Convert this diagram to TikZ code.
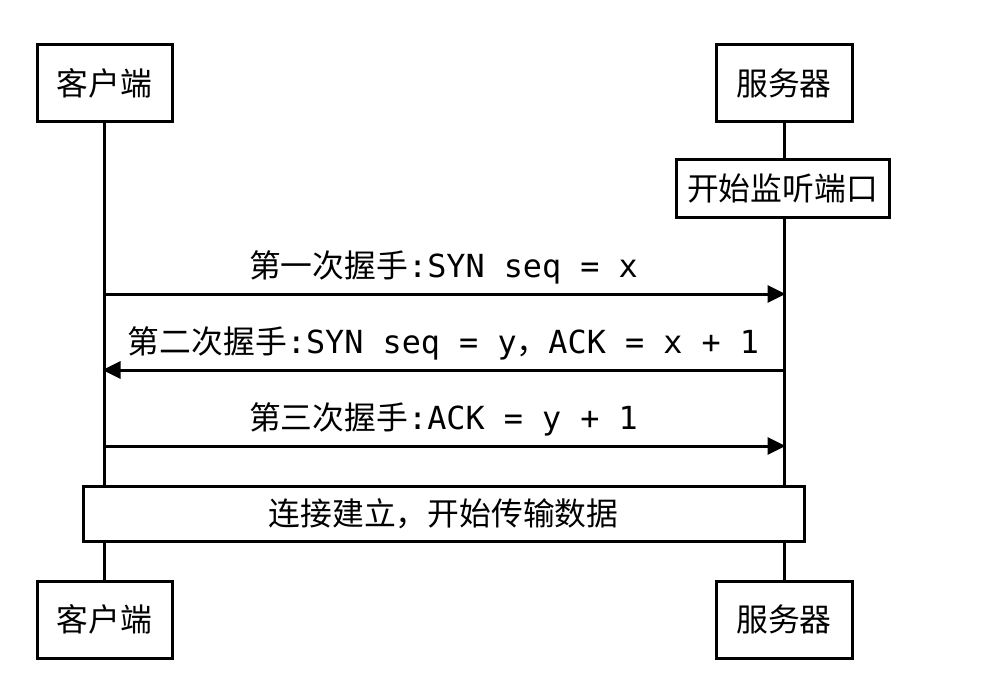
\documentclass[tikz,border=0pt]{standalone}
\usepackage{fontspec}
\setmainfont{Noto Sans CJK SC}
\newfontfamily\mono{DejaVu Sans Mono}
\usetikzlibrary{arrows.meta}
\begin{document}
\begin{tikzpicture}[x=1pt,y=-1pt,
  txt/.style={font=\fontsize{31.8}{38}\selectfont, inner sep=0pt},
  actor/.style={txt, draw, line width=3pt, fill=white, minimum width=135pt, minimum height=77pt},
  wide/.style={txt, draw, line width=3pt, fill=white},
  life/.style={line width=3pt},
  msg/.style={line width=3pt, -{Triangle[length=18pt,width=17pt]}, shorten >=-1.5pt}
]
\useasboundingbox (0,0) rectangle (988,698);
\node[actor] (ct) at (104.5,83.5) {客户端};
\node[actor, minimum width=136pt] (st) at (784,83.5) {服务器};
\node[actor] (cb) at (104.5,619.5) {客户端};
\node[actor, minimum width=136pt] (sb) at (784,619.5) {服务器};
\draw[life] (ct.south) -- (cb.north);
\draw[life] (st.south) -- (sb.north);
\node[wide, minimum width=213pt, minimum height=57pt] (listen) at (782.5,188.5) {开始监听端口};
\node[wide, minimum width=721pt, minimum height=55pt] (est) at (443.5,513.5) {连接建立，开始传输数据};
\coordinate (c1) at (104,294); \coordinate (s1) at (784,294);
\coordinate (c2) at (104,370); \coordinate (s2) at (784,370);
\coordinate (c3) at (104,446); \coordinate (s3) at (784,446);
\draw[msg] (c1) -- (s1);
\draw[msg] (s2) -- (c2);
\draw[msg] (c3) -- (s3);
\node[txt] (l1) at (443.5,267) {第一次握手{\mono :SYN seq = x}};
\node[txt] (l2) at (443.5,343) {第二次握手{\mono :SYN seq = y}，{\mono ACK = x + 1}};
\node[txt] (l3) at (443.5,419) {第三次握手{\mono :ACK = y + 1}};
\end{tikzpicture}
\end{document}
